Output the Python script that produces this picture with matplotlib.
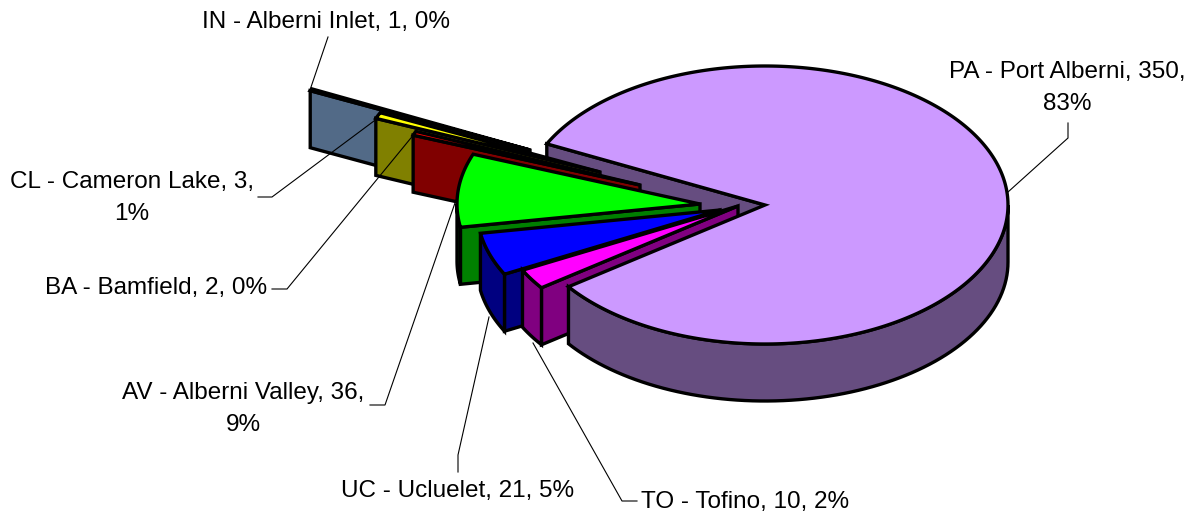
"""3D exploded pie, pixel canvas so it lines up with the original."""
import numpy as np
import matplotlib
matplotlib.use("Agg")
import matplotlib.pyplot as plt
from matplotlib.patches import Polygon

plt.rcParams["font.family"] = ["Liberation Sans", "DejaVu Sans"]

names = ["PA - Port Alberni", "TO - Tofino", "UC - Ucluelet", "AV - Alberni Valley",
         "BA - Bamfield", "CL - Cameron Lake", "IN - Alberni Inlet"]
values = [350, 10, 21, 36, 2, 3, 1]
percents = [83, 2, 5, 9, 0, 1, 0]

top_colors = ["#CC99FF", "#FF00FF", "#0000FF", "#00FF00", "#FF0000", "#FFFF00", "#A5D5FF"]
wall_colors = ["#664D80", "#800080", "#000080", "#008000", "#800000", "#808000", "#526A87"]

# explosion of each slice, px
shift_x = [0, -27, -45, -65, -125, -165, -235]
shift_y = [0, 1, 5, -1, -20, -33, -55]

# label text pos, line breaks, leader path
label_pos = [(1067, 88), (745, 502), (458, 491), (243, 409), (156, 288), (132, 198), (326, 22)]
label_fmt = ["{}, {},\n{}%", "{}, {}, {}%", "{}, {}, {}%", "{}, {},\n{}%",
             "{}, {}, {}%", "{}, {},\n{}%", "{}, {}, {}%"]
leaders = [[(1008, 192), (1068, 138), (1068, 123)],
           [(533, 343), (622, 501), (637, 501)],
           [(489, 317), (458, 455), (458, 472)],
           [(456, 200), (385, 405), (370, 405)],
           [(415, 133), (287, 289), (272, 289)],
           [(378, 118), (272, 197), (258, 197)],
           [(328, 37), (310, 90)]]

CX, CY = 765, 205
RX, RY = 243, 139
DEPTH = 57
START = 153.9
LW = 2.4

fig = plt.figure(figsize=(11.99, 5.12), dpi=100)
ax = fig.add_axes([0, 0, 1, 1])
ax.set_xlim(0, 1199)
ax.set_ylim(512, 0)
ax.axis("off")


def xy(a, ox, oy):
    r = np.radians(a)
    return np.column_stack([ox + RX * np.cos(r), oy - RY * np.sin(r)])


def poly(pts, color, z):
    ax.add_patch(Polygon(pts, closed=True, facecolor=color, edgecolor="k", lw=LW,
                         joinstyle="miter", zorder=z))


def radial_wall(a0, ox, oy, color, z):
    c = xy(np.array([a0]), ox, oy)[0]
    poly([(ox, oy), c, (c[0], c[1] + DEPTH), (ox, oy + DEPTH)], color, z)


def arc_wall(a0, a1, ox, oy, color, z):
    lo, hi = max(a1, -180), min(a0, 0)
    if lo >= hi:
        return
    arc = xy(np.linspace(hi, lo, 80), ox, oy)
    low = arc[::-1] + [0, DEPTH]
    poly(np.vstack([arc, low]), color, z)


def top(a0, a1, ox, oy, color, z):
    arc = xy(np.linspace(a0, a1, 300), ox, oy)
    poly(np.vstack([[(ox, oy)], arc]), color, z)


sweeps = [v / sum(values) * 360 for v in values]
edges = START - np.concatenate([[0], np.cumsum(sweeps)])

# back wall of the big slice goes first, its top last
radial_wall(edges[0], CX, CY, wall_colors[0], 1)
for i in range(len(values) - 1, 0, -1):
    ox, oy = CX + shift_x[i], CY + shift_y[i]
    z = 2 + (len(values) - i)
    radial_wall(edges[i], ox, oy, wall_colors[i], z)
    arc_wall(edges[i], edges[i + 1], ox, oy, wall_colors[i], z)
    top(edges[i], edges[i + 1], ox, oy, top_colors[i], z)
arc_wall(edges[0], edges[1], CX, CY, wall_colors[0], 20)
top(edges[0], edges[1], CX, CY, top_colors[0], 20)

for i, path in enumerate(leaders):
    xs, ys = zip(*path)
    ax.plot(xs, ys, color="k", lw=0.8, zorder=30, solid_joinstyle="miter")
    ax.text(label_pos[i][0], label_pos[i][1], label_fmt[i].format(names[i], values[i], percents[i]),
            ha="center", va="center", fontsize=17.5, linespacing=1.6, color="k", zorder=31)

fig.savefig("out.png", dpi=100)
